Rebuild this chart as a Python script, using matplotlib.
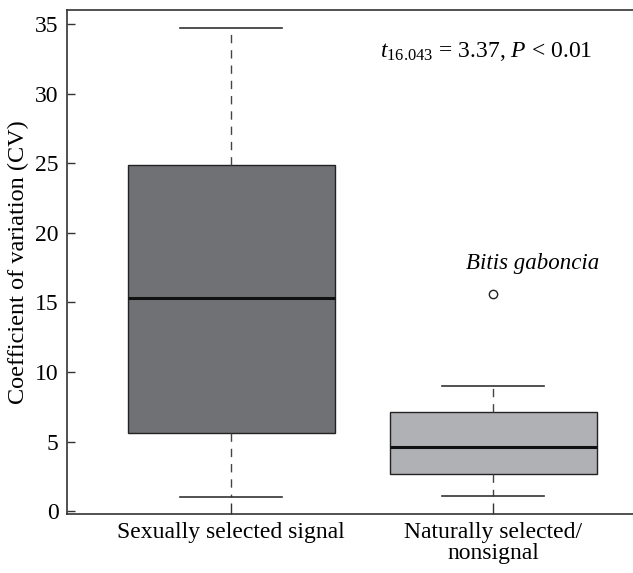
import matplotlib
matplotlib.use("Agg")
import matplotlib.pyplot as plt

# data
groups = ["Sexually selected signal", "Naturally selected/\nnonsignal"]
whisker_low = [1.0, 1.1]
q1 = [5.6, 2.7]
median = [15.3, 4.6]
q3 = [24.9, 7.1]
whisker_high = [34.7, 9.0]
outliers = [[], [15.6]]
box_colors = ["#707174", "#b0b1b4"]

plt.rcParams["font.family"] = "Liberation Serif"
plt.rcParams["mathtext.fontset"] = "custom"
plt.rcParams["mathtext.rm"] = "Liberation Serif"
plt.rcParams["mathtext.it"] = "Liberation Serif:italic"

FS = 17

stats = []
for i in range(len(groups)):
    stats.append({"whislo": whisker_low[i], "q1": q1[i], "med": median[i],
                  "q3": q3[i], "whishi": whisker_high[i], "fliers": outliers[i]})

fig = plt.figure(figsize=(6.33, 5.73), dpi=100)
ax = fig.add_axes([0.106, 0.103, 0.894, 0.8795])

bp = ax.bxp(stats, positions=[1, 2], widths=0.79, patch_artist=True,
            boxprops=dict(edgecolor="#222222", linewidth=1.0),
            medianprops=dict(color="#111111", linewidth=2.2),
            whiskerprops=dict(color="#444444", linewidth=1.0, linestyle=(0, (6, 5))),
            capprops=dict(color="#333333", linewidth=1.2),
            flierprops=dict(marker="o", markersize=6, markerfacecolor="white",
                            markeredgecolor="#222222", markeredgewidth=1.0))
for patch, c in zip(bp["boxes"], box_colors):
    patch.set_facecolor(c)
for cap in bp["caps"]:
    x = cap.get_xdata()
    mid = (x[0] + x[1]) / 2
    cap.set_xdata([mid - 0.195, mid + 0.195])

ax.set_xlim(0.374, 2.534)
ax.set_ylim(-0.2, 36)
ax.set_yticks([0, 5, 10, 15, 20, 25, 30, 35])
ax.set_xticks([1, 2])
ax.set_xticklabels(groups, fontsize=FS, linespacing=1.0)
ax.tick_params(axis="both", direction="in", length=6, width=1, colors="#333333",
               labelcolor="black", labelsize=FS)
ax.tick_params(axis="x", length=8, pad=6)
ax.tick_params(axis="y", pad=6)
ax.set_ylabel("Coefficient of variation (CV)", fontsize=17.5, labelpad=12)
ax.yaxis.set_label_coords(-0.067, 0.5)

for s in ["left", "bottom", "top"]:
    ax.spines[s].set_color("#333333")
    ax.spines[s].set_linewidth(1.2)
ax.spines["right"].set_visible(False)

ax.text(2.38, 33.0, "$t_{16.043}$ = 3.37, $P$ < 0.01", fontsize=FS, ha="right", va="center")
ax.text(2.15, 17.8, "Bitis gaboncia", fontsize=16.5, style="italic", ha="center", va="center")

fig.savefig("out.png", dpi=100)
